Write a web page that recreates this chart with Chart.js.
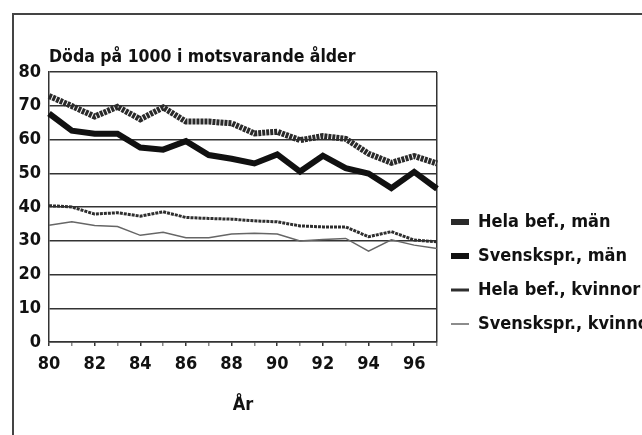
<!DOCTYPE html>
<html>
<head>
<meta charset="utf-8">
<script src="https://cdn.jsdelivr.net/npm/chart.js@4.4.1/dist/chart.umd.min.js"></script>
<style>
  body { margin: 0; background: #fff; }
  #wrap { position: relative; width: 642px; height: 435px; }
  #frame { position: absolute; left: 12px; top: 13px; right: 0; bottom: 0; border-left: 2px solid #444; border-top: 2px solid #444; }
  canvas { position: absolute; left: 0; top: 0; }
</style>
</head>
<body>
<div id="wrap"><div id="frame"></div><canvas id="myChart" width="642" height="435"></canvas></div>
<script>
const years = ['80', '81', '82', '83', '84', '85', '86', '87', '88', '89', '90', '91', '92', '93', '94', '95', '96', '97'];
const helaMan = [72.9, 69.9, 66.8, 69.7, 66.0, 69.5, 65.3, 65.3, 64.8, 61.8, 62.3, 59.8, 61.0, 60.2, 55.8, 53.1, 55.1, 52.9];
const svMan = [67.7, 62.6, 61.7, 61.7, 57.6, 57.0, 59.5, 55.4, 54.3, 52.9, 55.6, 50.5, 55.2, 51.5, 49.9, 45.6, 50.4, 45.4];
const helaKv = [40.4, 40.0, 37.9, 38.3, 37.3, 38.6, 36.9, 36.6, 36.4, 35.9, 35.6, 34.4, 34.1, 34.1, 31.2, 32.7, 30.2, 29.7];
const svKv = [34.6, 35.6, 34.5, 34.2, 31.6, 32.5, 30.9, 30.9, 32.0, 32.2, 32.0, 29.9, 30.4, 30.7, 26.9, 30.3, 28.7, 27.7];
const yTicks = [0, 10, 20, 30, 40, 50, 60, 70, 80];

const ink = '#111';
Chart.defaults.font.family = "'Liberation Sans Narrow', 'DejaVu Sans Condensed', sans-serif";
Chart.defaults.font.size = 18;
Chart.defaults.font.weight = 'bold';
Chart.defaults.color = ink;

// fixed legend width, then nudge legend / title into place
const placement = {
    id: 'placement',
    beforeInit(chart) {
        const originalFit = chart.legend.fit;
        chart.legend.fit = function fit() {
            originalFit.bind(chart.legend)();
            this.width = 205;
        };
    },
    afterLayout(chart) {
        chart.legend.top = 197;
        chart.legend.left = chart.chartArea.right - 2;
        chart.titleBlock.left = chart.chartArea.left;
    }
};

new Chart(document.getElementById('myChart'), {
    type: 'line',
    data: {
        labels: years,
        datasets: [
            { label: 'Hela bef., män', data: helaMan, borderColor: '#2a2a2a', borderWidth: 6, borderDash: [3, 1] },
            { label: 'Svenskspr., män', data: svMan, borderColor: '#111', borderWidth: 6 },
            { label: 'Hela bef., kvinnor', data: helaKv, borderColor: '#2e2e2e', borderWidth: 3, borderDash: [3, 1] },
            { label: 'Svenskspr., kvinnor', data: svKv, borderColor: '#666', borderWidth: 1.5 },
        ],
    },
    options: {
        responsive: false,
        animation: false,
        elements: { point: { radius: 0 }, line: { tension: 0, fill: false } },
        layout: { padding: 0 },
        plugins: {
            title: {
                display: true,
                text: 'Döda på 1000 i motsvarande ålder',
                align: 'start',
                color: ink,
                font: { size: 17.5, weight: 'bold' },
                padding: { top: 46.5, bottom: 4.5 },
            },
            legend: {
                position: 'right',
                align: 'start',
                labels: {
                    usePointStyle: true,
                    pointStyle: 'line',
                    pointStyleWidth: 18,
                    padding: 16,
                    color: ink,
                    font: { size: 18, weight: 'bold' },
                },
            },
            tooltip: { enabled: false },
        },
        scales: {
            x: {
                afterFit: (scale) => { scale.height = 93; },
                grid: {
                    drawTicks: true,
                    tickLength: 4,
                    color: (c) => c.index === years.length - 1 ? '#333' : 'rgba(0,0,0,0)',
                    tickColor: (c) => c.index % 2 === 0 ? '#333' : '#888',
                    lineWidth: 1.5,
                },
                border: { display: true, color: '#333', width: 1.5 },
                ticks: {
                    autoSkip: false,
                    maxRotation: 0,
                    padding: 8,
                    callback: (v, i) => i % 2 === 0 ? years[i] : '',
                },
                title: {
                    display: true,
                    text: 'År',
                    color: ink,
                    font: { size: 18, weight: 'bold' },
                    padding: { top: 0, bottom: 19 },
                },
            },
            y: {
                min: 0,
                max: 80,
                afterFit: (scale) => { scale.width = 49; },
                afterBuildTicks: (scale) => { scale.ticks = yTicks.map((v) => ({ value: v })); },
                grid: { drawTicks: false, color: '#333', lineWidth: 1.5 },
                border: { display: true, color: '#333', width: 1.5 },
                ticks: { padding: 8 },
            },
        },
    },
    plugins: [placement],
});
</script>
</body>
</html>
